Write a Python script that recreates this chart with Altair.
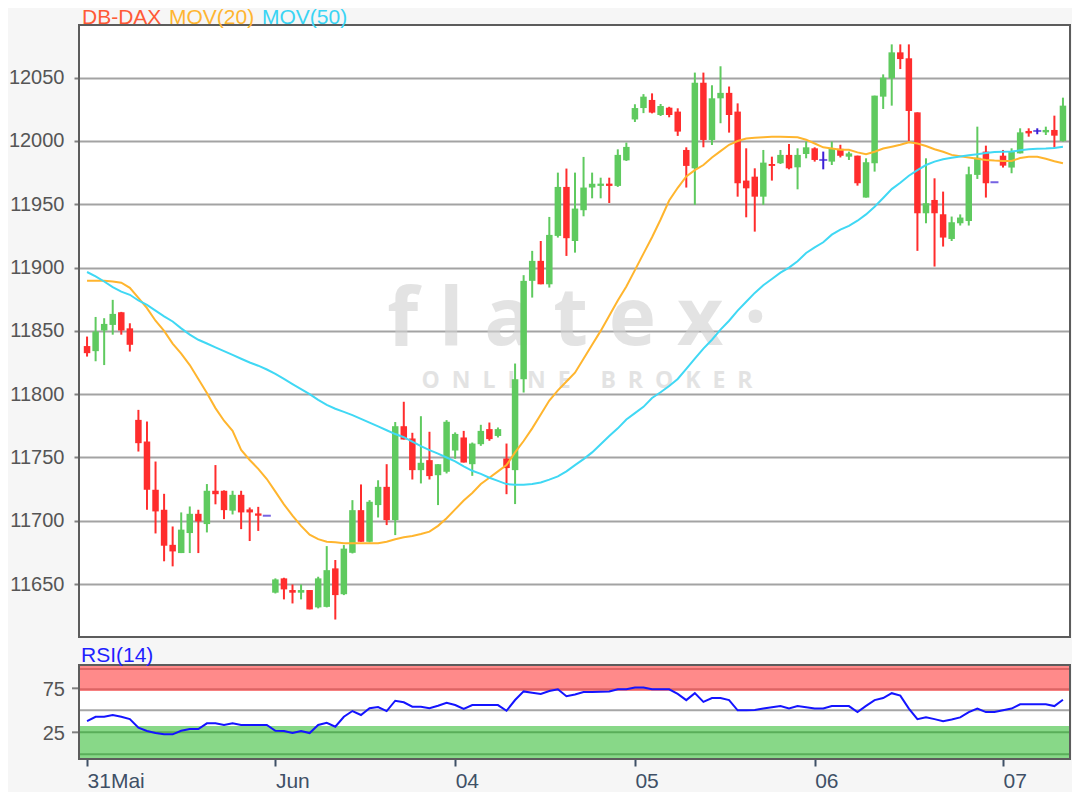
import altair as alt
import pandas as pd

# ---------------- data ----------------
idx = list(range(115))
opens = [11838, 11834, 11850.3, 11854.7, 11864.7, 11852, 11779.7, 11762.6, 11724.5, 11708.7,
         11681, 11674.5, 11690.3, 11705.5, 11697.4, 11723.7, 11723.7, 11708, 11720.5, 11709,
         11705.8, 11704, 11643.2, 11654.5, 11645.3, 11643.2, 11645.3, 11631.6, 11632, 11662.4,
         11642, 11674.7, 11708.4, 11683.4, 11712.4, 11726.8, 11700.5, 11774.7, 11765, 11740,
         11747.9, 11736, 11738.7, 11755.5, 11765.8, 11744.7, 11760.5, 11772.4, 11767, 11749.2,
         11740, 11811.8, 11889.5, 11905.3, 11886.8, 11925, 11963.7, 11921, 11945.3, 11963.2,
         11964.5, 11966.3, 11964.5, 11984.7, 12017, 12026, 12032.4, 12020.5, 12026.3, 12023.2,
         11992.9, 11978.4, 12046, 12000.8, 12033.7, 12038, 12023.2, 11968.7, 11971.8, 11956,
         11981.8, 11982.4, 11989, 11979.2, 11989.7, 11994.2, 11985, 11983.7, 11993.8, 11987.6,
         11988.4, 11955.3, 11982.4, 12035, 12049.5, 12070, 12065.3, 12022.6, 11942.9, 11953.4,
         11942.1, 11922.6, 11935, 11936.8, 11973.2, 11991.6, 11967.4, 11988.4, 11979, 11990.2,
         12007.9, 12007.9, 12006.8, 12008.7, 12000]
highs = [11845.5, 11861, 11860, 11874.5, 11865, 11856, 11787.6, 11778.4, 11746.8, 11721.3,
         11695.5, 11706.6, 11711.3, 11708.7, 11729, 11744, 11724, 11723.7, 11723.7, 11710.5,
         11711, 11704, 11654.5, 11655, 11649.7, 11649.7, 11645.3, 11655.8, 11680, 11669,
         11680.8, 11716.3, 11728.7, 11716.3, 11732, 11744.7, 11778, 11794, 11769.5, 11782.6,
         11770.3, 11744.7, 11779.5, 11769.8, 11771, 11761.8, 11775.8, 11777.6, 11773.7, 11761,
         11824.2, 11894, 11913.2, 11921, 11940, 11975, 11978.2, 11975, 11987.4, 11975,
         11971, 11971, 11993.4, 11998.7, 12029, 12037, 12037.6, 12029.2, 12027, 12025.8,
         11995, 12054, 12054, 12044, 12059, 12043, 12029.7, 11994.2, 11978.4, 11992.9,
         11987.6, 11992.9, 11997.6, 11994.2, 11999.5, 11995, 11991.6, 11999.5, 11997, 11991.6,
         11988.4, 11986.3, 12035.8, 12052.6, 12076.3, 12076.3, 12076.3, 12022.6, 11986.3, 11970.5,
         11960, 11940.3, 11942, 11979.7, 12011.3, 11996.3, 11967.4, 11992.9, 11994.2, 12010,
         12010, 12010, 12011.3, 12020, 12034.2]
lows = [11829.7, 11826, 11823, 11847, 11847, 11833.7, 11754.7, 11708.7, 11690, 11668,
        11664, 11674.5, 11674.5, 11674.5, 11690.8, 11713, 11701.3, 11705, 11693.4, 11684,
        11692, 11704, 11642.6, 11637.9, 11634.7, 11637.9, 11630, 11630.8, 11631.6, 11622,
        11641.3, 11674.2, 11683.4, 11682.9, 11702.6, 11696.6, 11688.7, 11764.2, 11732.6, 11729.5,
        11732.6, 11712.4, 11737.4, 11749, 11746, 11735.5, 11759.2, 11763.2, 11765.8, 11721,
        11713.2, 11801.3, 11876.3, 11886.8, 11884.2, 11923.7, 11909.2, 11911.8, 11940.5, 11954.7,
        11954.7, 11951, 11963.7, 11984.2, 12015, 12022, 12021.8, 12019.7, 12018.7, 12004,
        11963.2, 11949.5, 11995, 11996.8, 12014, 12006.6, 11956, 11939.7, 11928.4, 11949.5,
        11968.7, 11981.8, 11977.6, 11961.8, 11986.3, 11983.7, 11977.6, 11981, 11987, 11985,
        11964.7, 11955.3, 11975.8, 12025.3, 12027.9, 12056.8, 12000, 11913.2, 11935, 11900.8,
        11916.6, 11921, 11933.2, 11933.2, 11970, 11955.3, 11967.4, 11979, 11974.5, 11990.2,
        12003.4, 12005.3, 12004.7, 11994.7, 11999.5]
closes = [11832.4, 11849.5, 11855.5, 11863.4, 11850.3, 11839, 11761.3, 11724.5, 11707.4, 11680.3,
          11675.8, 11693, 11705.5, 11699.5, 11723.7, 11721, 11708.4, 11720.5, 11706.6, 11706.6,
          11704, 11704, 11653.7, 11645.8, 11643.2, 11645.3, 11630, 11654.5, 11661, 11641.3,
          11678, 11708.4, 11683.4, 11715, 11726.8, 11700.5, 11774.7, 11764.2, 11740, 11745.8,
          11735.3, 11744.7, 11778.2, 11768.6, 11746, 11761, 11771, 11764.5, 11772.4, 11741.6,
          11811.8, 11889.5, 11905.3, 11886.8, 11925.8, 11963.7, 11923.2, 11946.6, 11963.2, 11966.3,
          11966.3, 11964.5, 11989, 11995.3, 12026, 12035, 12022.4, 12027.6, 12020.5, 12007.4,
          11980.3, 12046, 12000.8, 12033.7, 12038, 12020.5, 11966.6, 11962.6, 11956, 11982.9,
          11980.3, 11989, 11978.4, 11989, 11995, 11985, 11985, 11994.2, 11988.3, 11990.2,
          11966.6, 11983.2, 12035.8, 12050, 12070, 12064.7, 12023.7, 11942.9, 11950.8, 11942.9,
          11923.7, 11935.8, 11939.5, 11973.7, 11986.8, 11966.6, 11967.4, 11980.5, 11991.6, 12006.8,
          12006, 12007.9, 12008.7, 12004.2, 12027.9]
ma20 = [11889.5, 11889.5, 11889.5, 11889, 11888, 11884, 11876, 11868, 11858, 11850,
        11840, 11832, 11823, 11812, 11801, 11789, 11779, 11771, 11756, 11748,
        11741, 11733, 11723, 11713, 11704, 11696, 11689, 11685.5, 11683.5, 11683,
        11682.2, 11682.2, 11682.2, 11682.2, 11682.2, 11683.5, 11685.4, 11687, 11688, 11689.5,
        11691.4, 11696, 11702, 11709, 11716, 11722, 11729, 11734, 11739, 11744,
        11754, 11763, 11773, 11784, 11795, 11803, 11810, 11817, 11828, 11839,
        11850, 11862, 11874, 11885, 11898, 11911, 11924, 11938, 11953, 11963,
        11972, 11977, 11981, 11987, 11992, 11997, 12000, 12002, 12002.5, 12003,
        12003.4, 12003.4, 12003.2, 12003, 12001, 11998, 11995, 11994, 11993, 11993,
        11991, 11989.5, 11991.5, 11994, 11995.5, 11997, 11999, 11998, 11996, 11993.5,
        11991.5, 11989, 11988, 11987, 11986, 11985, 11984.5, 11984.2, 11984.2, 11986.5,
        11987.6, 11987.6, 11986, 11984, 11982.4]
ma50 = [11896.5, 11893, 11889, 11884.5, 11881, 11878.5, 11874, 11870.5, 11866, 11861.5,
        11857.4, 11852, 11847, 11843, 11840, 11837, 11834, 11831, 11828, 11825,
        11822.5, 11819.5, 11816, 11812, 11808, 11804, 11800, 11795.5, 11791.5, 11788.5,
        11786, 11783.5, 11780.5, 11777.5, 11774.5, 11771.5, 11768.5, 11766, 11762.5, 11759,
        11755.8, 11753, 11750, 11747, 11743, 11739.5, 11737, 11734, 11731.5, 11729,
        11728.5, 11728.4, 11729, 11730.3, 11732.5, 11735, 11739, 11744, 11748.7, 11754,
        11760.5, 11767, 11773, 11780, 11785, 11790, 11797, 11801.5, 11806.5, 11812,
        11820, 11828, 11836, 11843, 11851, 11858, 11866, 11873, 11880, 11886,
        11891, 11896, 11900, 11905, 11911.5, 11916, 11920, 11926, 11930, 11933,
        11937, 11942, 11948, 11955, 11962, 11967, 11972.5, 11977, 11981, 11983.7,
        11985.5, 11986.8, 11987.8, 11988.8, 11989.5, 11990.5, 11991.2, 11991.4, 11991.6, 11992.6,
        11993.5, 11993.8, 11994, 11994.5, 11995.5]
rsi = [37.8, 42.7, 42.7, 44.7, 42.7, 40.1, 30.2, 26.5, 24.2, 22.7,
       22.7, 26.8, 28.8, 28.8, 35.2, 35.2, 33.3, 35.2, 33.3, 33.3,
       33.3, 33.3, 26.8, 26.5, 24.2, 26.5, 24.2, 33.3, 35.9, 31.4,
       42.7, 49.2, 44.7, 52.3, 53.8, 49.2, 60.9, 59.1, 54.1, 54.1,
       52.3, 55.2, 58.6, 56, 51.5, 56, 56, 56, 56, 49.5,
       61.7, 71.5, 70, 68.7, 72, 73.9, 66, 68, 70.7, 70.7,
       71, 71.5, 73.9, 73.9, 75.9, 75.9, 73.9, 73.9, 73.9, 68.7,
       61.6, 69.5, 59.6, 63.9, 63.9, 61.6, 50, 50, 50.5, 52,
       53.5, 54.8, 52, 54.8, 53.5, 52, 52, 54.8, 54.8, 54.8,
       48, 55, 61.6, 63.9, 69.5, 66.7, 52, 40, 42, 40,
       37.6, 39.5, 42, 48, 52, 48, 48, 50, 52, 56.8,
       56.8, 56.8, 56.8, 54.8, 62]
day_ticks = [0, 22, 43, 64, 85, 107]
day_labels = ["31Mai", "Jun", "04", "05", "06", "07"]
price_ticks = [11650, 11700, 11750, 11800, 11850, 11900, 11950, 12000, 12050]
rsi_ticks = [25, 75]
rsi_tick_labels = ["25", "75"]

# ---------------- tables ----------------
def direction(o, c):
    if c > o:
        return "up"
    if c < o:
        return "down"
    return "doji"

candles = pd.DataFrame({"idx": idx, "open": opens, "high": highs, "low": lows, "close": closes})
candles["dir"] = [direction(o, c) for o, c in zip(opens, closes)]
lines = pd.DataFrame({"idx": idx, "ma20": ma20, "ma50": ma50, "rsi": rsi})
rsi_axis = pd.DataFrame({"v": rsi_ticks, "t": rsi_tick_labels})
one = pd.DataFrame({"k": [0]})

# ---------------- geometry / style ----------------
W, H = 991, 734
MAIN_H = 612
RSI_TOP = 640
FONT = "Liberation Sans"
BG = "#f6f6f6"
GREEN, RED, DOJI = "#5fca5f", "#ff2d2d", "#3b1fd6"
NB = "\u00a0"

price_scale = alt.Scale(domain=[11608.2, 12091.6], range=[MAIN_H, 0], zero=False, nice=False)
rsi_scale = alt.Scale(domain=[-5.3, 101.5], range=[H, RSI_TOP], zero=False, nice=False)
x_scale = alt.Scale(domain=[-0.356, 114.24], zero=False, nice=False)

label_expr = " : ".join(f"datum.value == {t} ? '{l}'" for t, l in zip(day_ticks, day_labels)) + " : ''"
x_axis = alt.Axis(values=day_ticks, labelExpr=label_expr, grid=False, domain=False,
                  tickSize=7, tickWidth=2, tickColor="#3f5066", labelColor="#3f5066",
                  labelFontSize=21, labelFont=FONT, labelAlign="left", labelBaseline="top",
                  labelPadding=4, labelFlush=False, labelOverlap=False, title=None)
X = alt.X("idx:Q", scale=x_scale, axis=x_axis)
y_axis = alt.Axis(values=price_ticks, grid=True, gridColor="#a3a3a3", gridWidth=2, domain=False,
                  tickSize=5, tickWidth=2, tickColor="#808080", labelColor="#555555",
                  labelFontSize=20, labelFont=FONT, labelPadding=10, labelFlush=False,
                  title=None, format="d")
color = alt.Color("dir:N", scale=alt.Scale(domain=["up", "down", "doji"], range=[GREEN, RED, DOJI]),
                  legend=None)

# gap between the two panels
gap = alt.Chart(one).mark_rect(color=BG).encode(
    x=alt.value(0), x2=alt.value(W), y=alt.value(MAIN_H), y2=alt.value(RSI_TOP))

# watermark
wm_big = NB.join(list("flatex")) + NB + "·"
wm_small = (NB * 2).join(list("ONLINE")) + NB * 5 + (NB * 2).join(list("BROKER"))
wm1 = alt.Chart(one).mark_text(text=wm_big, font="Open Sans", fontSize=80, fontWeight="bold",
                               color="#d2d2d2", opacity=0.6, align="center",
                               baseline="alphabetic").encode(x=alt.value(498), y=alt.value(320))
wm2 = alt.Chart(one).mark_text(text=wm_small, font="Open Sans", fontSize=23, fontWeight="bold",
                               color="#d2d2d2", opacity=0.6, align="center",
                               baseline="alphabetic").encode(x=alt.value(508), y=alt.value(363))

# RSI panel decorations
bands = pd.DataFrame({"lo": [72, -5.3], "hi": [101.5, 32.2], "c": ["#ff8a8a", "#88d888"]})
band_rect = alt.Chart(bands).mark_rect().encode(
    x=alt.value(0), x2=alt.value(W),
    y=alt.Y("lo:Q", scale=rsi_scale, axis=None), y2="hi:Q",
    color=alt.Color("c:N", scale=None))
blines = pd.DataFrame({"v": [97, 74, 25, 0, 50],
                       "c": ["#dd6464", "#dd6464", "#5aae5a", "#5aae5a", "#a6a6a6"]})
band_lines = alt.Chart(blines).mark_rule(strokeWidth=2).encode(
    x=alt.value(0), x2=alt.value(W),
    y=alt.Y("v:Q", scale=rsi_scale, axis=None),
    color=alt.Color("c:N", scale=None))
rsi_ticks_l = alt.Chart(rsi_axis).mark_rule(strokeWidth=2, color="#808080").encode(
    x=alt.value(-7), x2=alt.value(0), y=alt.Y("v:Q", scale=rsi_scale, axis=None))
rsi_labels = alt.Chart(rsi_axis).mark_text(align="right", baseline="middle", fontSize=20, font=FONT,
                                           color="#555555", dy=2).encode(
    x=alt.value(-14), y=alt.Y("v:Q", scale=rsi_scale, axis=None), text="t:N")

# candles
wicks = alt.Chart(candles).mark_rule(strokeWidth=2).encode(
    x=X, y=alt.Y("low:Q", scale=price_scale, axis=y_axis), y2="high:Q", color=color)
bodies = alt.Chart(candles).transform_filter("datum.dir != 'doji'").mark_bar(size=6.5).encode(
    x=X, y=alt.Y("open:Q", scale=price_scale, axis=None), y2="close:Q", color=color)
dojis = alt.Chart(candles).transform_filter("datum.dir == 'doji'").mark_tick(
    orient="horizontal", thickness=2, size=8, color=DOJI).encode(
    x=X, y=alt.Y("close:Q", scale=price_scale, axis=None))

# moving averages and RSI
mov20 = alt.Chart(lines).mark_line(color="#ffb52e", strokeWidth=2).encode(
    x=X, y=alt.Y("ma20:Q", scale=price_scale, axis=None))
mov50 = alt.Chart(lines).mark_line(color="#40d8f4", strokeWidth=2).encode(
    x=X, y=alt.Y("ma50:Q", scale=price_scale, axis=None))
rsi_line = alt.Chart(lines).mark_line(color="#1414ff", strokeWidth=2).encode(
    x=X, y=alt.Y("rsi:Q", scale=rsi_scale, axis=None))

# frames
frame_main = alt.Chart(one).mark_rect(fill="white", fillOpacity=0, stroke="#5c5c5c", strokeWidth=2).encode(
    x=alt.value(0), x2=alt.value(W), y=alt.value(0), y2=alt.value(MAIN_H))
frame_rsi = alt.Chart(one).mark_rect(fill="white", fillOpacity=0, stroke="#5c5c5c", strokeWidth=2).encode(
    x=alt.value(0), x2=alt.value(W), y=alt.value(RSI_TOP), y2=alt.value(H))

# titles
def label(text, x, y, col):
    return alt.Chart(one).mark_text(text=text, align="left", baseline="alphabetic", fontSize=21,
                                    font=FONT, color=col).encode(x=alt.value(x), y=alt.value(y))

t1 = label("DB-DAX", 3, -1, "#ff5a36")
t2 = label("MOV(20)", 90, -1, "#ffb530")
t3 = label("MOV(50)", 183, -1, "#3ad4f4")
t4 = label("RSI(14)", 2, 637, "#1f1fff")

chart = alt.layer(
    gap, wm1, wm2, band_rect, band_lines, rsi_ticks_l, rsi_labels,
    wicks, bodies, dojis, mov20, mov50, rsi_line,
    frame_main, frame_rsi, t1, t2, t3, t4
).resolve_scale(y="independent").properties(
    width=W, height=H,
    autosize=alt.AutoSizeParams(type="none"),
    padding={"left": 71, "top": 17, "right": 2, "bottom": 33},
    background=BG,
).configure_view(fill="white", stroke=None)

chart.save("out.html", embed_options={"renderer": "svg", "actions": False})
